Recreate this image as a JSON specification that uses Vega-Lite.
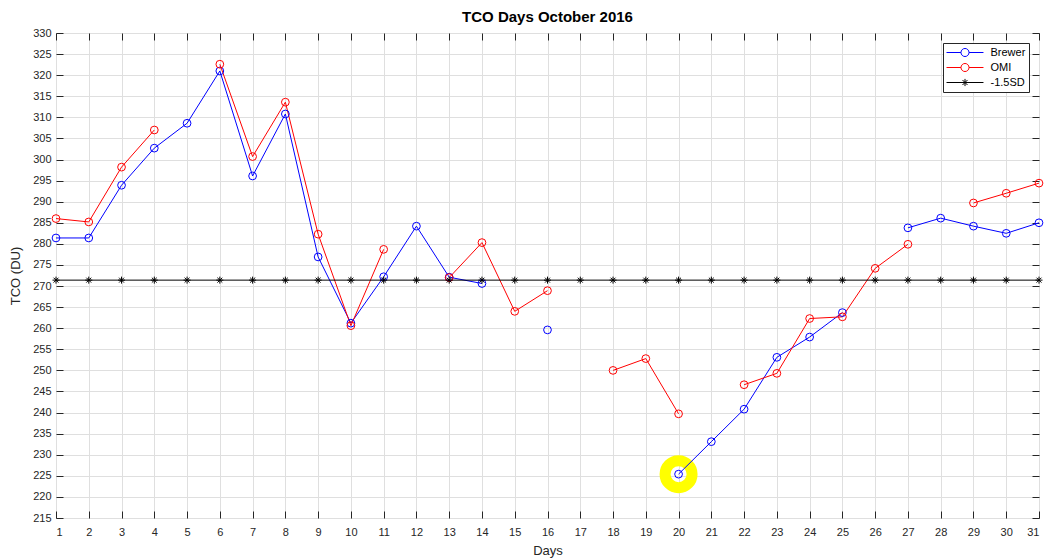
{
  "$schema": "https://vega.github.io/schema/vega-lite/v6.json",
  "width": 983,
  "height": 485,
  "autosize": {"type": "none"},
  "padding": {"left": 56, "top": 33, "right": 5, "bottom": 40},
  "background": "white",
  "title": {"text": "TCO Days October 2016", "fontSize": 15, "fontWeight": "bold", "font": "Liberation Sans", "color": "#000000", "frame": "group", "anchor": "middle", "offset": 2},
  "datasets": {
    "tco": [
      {"day": 1, "series": "Brewer", "value": 281.4}, {"day": 2, "series": "Brewer", "value": 281.4}, {"day": 3, "series": "Brewer", "value": 293.9}, {"day": 4, "series": "Brewer", "value": 302.7}, {"day": 5, "series": "Brewer", "value": 308.6}, {"day": 6, "series": "Brewer", "value": 321.0}, {"day": 7, "series": "Brewer", "value": 296.1}, {"day": 8, "series": "Brewer", "value": 310.8}, {"day": 9, "series": "Brewer", "value": 276.9}, {"day": 10, "series": "Brewer", "value": 261.2}, {"day": 11, "series": "Brewer", "value": 272.2}, {"day": 12, "series": "Brewer", "value": 284.2}, {"day": 13, "series": "Brewer", "value": 272.1}, {"day": 14, "series": "Brewer", "value": 270.6}, {"day": 15, "series": "Brewer", "value": null}, {"day": 16, "series": "Brewer", "value": 259.6}, {"day": 17, "series": "Brewer", "value": null}, {"day": 18, "series": "Brewer", "value": null}, {"day": 19, "series": "Brewer", "value": null}, {"day": 20, "series": "Brewer", "value": 225.4}, {"day": 21, "series": "Brewer", "value": 233.1}, {"day": 22, "series": "Brewer", "value": 240.8}, {"day": 23, "series": "Brewer", "value": 253.1}, {"day": 24, "series": "Brewer", "value": 257.9}, {"day": 25, "series": "Brewer", "value": 263.7}, {"day": 26, "series": "Brewer", "value": null}, {"day": 27, "series": "Brewer", "value": 283.8}, {"day": 28, "series": "Brewer", "value": 286.1}, {"day": 29, "series": "Brewer", "value": 284.2}, {"day": 30, "series": "Brewer", "value": 282.5}, {"day": 31, "series": "Brewer", "value": 285.0},
      {"day": 1, "series": "OMI", "value": 286.0}, {"day": 2, "series": "OMI", "value": 285.2}, {"day": 3, "series": "OMI", "value": 298.2}, {"day": 4, "series": "OMI", "value": 307.0}, {"day": 5, "series": "OMI", "value": null}, {"day": 6, "series": "OMI", "value": 322.6}, {"day": 7, "series": "OMI", "value": 300.7}, {"day": 8, "series": "OMI", "value": 313.6}, {"day": 9, "series": "OMI", "value": 282.3}, {"day": 10, "series": "OMI", "value": 260.6}, {"day": 11, "series": "OMI", "value": 278.7}, {"day": 12, "series": "OMI", "value": null}, {"day": 13, "series": "OMI", "value": 272.0}, {"day": 14, "series": "OMI", "value": 280.3}, {"day": 15, "series": "OMI", "value": 264.0}, {"day": 16, "series": "OMI", "value": 268.9}, {"day": 17, "series": "OMI", "value": null}, {"day": 18, "series": "OMI", "value": 250.0}, {"day": 19, "series": "OMI", "value": 252.8}, {"day": 20, "series": "OMI", "value": 239.7}, {"day": 21, "series": "OMI", "value": null}, {"day": 22, "series": "OMI", "value": 246.6}, {"day": 23, "series": "OMI", "value": 249.3}, {"day": 24, "series": "OMI", "value": 262.3}, {"day": 25, "series": "OMI", "value": 262.7}, {"day": 26, "series": "OMI", "value": 274.2}, {"day": 27, "series": "OMI", "value": 279.9}, {"day": 28, "series": "OMI", "value": null}, {"day": 29, "series": "OMI", "value": 289.7}, {"day": 30, "series": "OMI", "value": 292.0}, {"day": 31, "series": "OMI", "value": 294.4},
      {"day": 1, "series": "-1.5SD", "value": 271.4}, {"day": 2, "series": "-1.5SD", "value": 271.4}, {"day": 3, "series": "-1.5SD", "value": 271.4}, {"day": 4, "series": "-1.5SD", "value": 271.4}, {"day": 5, "series": "-1.5SD", "value": 271.4}, {"day": 6, "series": "-1.5SD", "value": 271.4}, {"day": 7, "series": "-1.5SD", "value": 271.4}, {"day": 8, "series": "-1.5SD", "value": 271.4}, {"day": 9, "series": "-1.5SD", "value": 271.4}, {"day": 10, "series": "-1.5SD", "value": 271.4}, {"day": 11, "series": "-1.5SD", "value": 271.4}, {"day": 12, "series": "-1.5SD", "value": 271.4}, {"day": 13, "series": "-1.5SD", "value": 271.4}, {"day": 14, "series": "-1.5SD", "value": 271.4}, {"day": 15, "series": "-1.5SD", "value": 271.4}, {"day": 16, "series": "-1.5SD", "value": 271.4}, {"day": 17, "series": "-1.5SD", "value": 271.4}, {"day": 18, "series": "-1.5SD", "value": 271.4}, {"day": 19, "series": "-1.5SD", "value": 271.4}, {"day": 20, "series": "-1.5SD", "value": 271.4}, {"day": 21, "series": "-1.5SD", "value": 271.4}, {"day": 22, "series": "-1.5SD", "value": 271.4}, {"day": 23, "series": "-1.5SD", "value": 271.4}, {"day": 24, "series": "-1.5SD", "value": 271.4}, {"day": 25, "series": "-1.5SD", "value": 271.4}, {"day": 26, "series": "-1.5SD", "value": 271.4}, {"day": 27, "series": "-1.5SD", "value": 271.4}, {"day": 28, "series": "-1.5SD", "value": 271.4}, {"day": 29, "series": "-1.5SD", "value": 271.4}, {"day": 30, "series": "-1.5SD", "value": 271.4}, {"day": 31, "series": "-1.5SD", "value": 271.4}
    ],
    "highlight": [{"day": 20, "value": 225.4}]
  },
  "resolve": {"axis": {"x": "independent", "y": "independent"}},
  "layer": [
    {
      "data": {"name": "highlight"},
      "mark": {"type": "point", "shape": "circle", "filled": false, "size": 729, "strokeWidth": 11, "stroke": "#ffff00", "opacity": 1},
      "encoding": {
        "x": {"field": "day", "type": "quantitative", "scale": {"domain": [1, 31], "nice": false, "zero": false}, "axis": null},
        "y": {"field": "value", "type": "quantitative", "scale": {"domain": [215, 330], "nice": false, "zero": false}, "axis": null}
      }
    },
    {
      "data": {"name": "tco"},
      "mark": {"type": "line", "strokeWidth": 1, "invalid": "break-paths-show-domains"},
      "encoding": {
        "x": {"field": "day", "type": "quantitative", "title": "Days",
          "axis": {"orient": "bottom", "values": [1,2,3,4,5,6,7,8,9,10,11,12,13,14,15,16,17,18,19,20,21,22,23,24,25,26,27,28,29,30,31], "grid": true, "labelPadding": 15, "titlePadding": 7}},
        "y": {"field": "value", "type": "quantitative", "title": "TCO (DU)",
          "axis": {"orient": "left", "values": [215,220,225,230,235,240,245,250,255,260,265,270,275,280,285,290,295,300,305,310,315,320,325,330], "grid": true, "labelPadding": 12, "titlePadding": 10}},
        "color": {"field": "series", "type": "nominal",
          "scale": {"domain": ["Brewer", "OMI", "-1.5SD"], "range": ["#0000ff", "#ff0000", "#000000"]},
          "legend": {
            "title": null, "orient": "top-right", "offset": 10,
            "symbolSize": 144, "symbolStrokeWidth": 1, "symbolFillColor": "transparent", "symbolOffset": 12.5,
            "labelFontSize": 11, "labelFont": "Liberation Sans", "labelColor": "#000000", "labelOffset": 19,
            "strokeColor": "#262626", "fillColor": "white", "padding": 3, "rowPadding": 2,
            "encode": {"symbols": {"update": {
              "shape": {"signal": "datum.value === '-1.5SD' ? 'M-3.08,0L3.08,0M0,-0.6L0,0.6M-0.42,-0.42L0.42,0.42M-0.42,0.42L0.42,-0.42' : 'M-3.08,0L-0.67,0M0.67,0L3.08,0M0.67,0A0.67,0.67 0 1,1 -0.67,0A0.67,0.67 0 1,1 0.67,0'"},
              "fill": {"value": "transparent"}
            }}}
          }}
      }
    },
    {
      "data": {"name": "tco"},
      "transform": [{"filter": "datum.series !== '-1.5SD'"}],
      "mark": {"type": "point", "shape": "circle", "filled": false, "size": 60, "strokeWidth": 1, "opacity": 1},
      "encoding": {
        "x": {"field": "day", "type": "quantitative", "axis": null},
        "y": {"field": "value", "type": "quantitative", "axis": null},
        "color": {"field": "series", "type": "nominal", "legend": null}
      }
    },
    {
      "data": {"name": "tco"},
      "transform": [{"filter": "datum.series === '-1.5SD'"}],
      "mark": {"type": "point", "shape": "M-1,0L1,0M0,-1L0,1M-0.7,-0.7L0.7,0.7M-0.7,0.7L0.7,-0.7", "filled": false, "size": 49, "strokeWidth": 1, "stroke": "#000000", "opacity": 1},
      "encoding": {
        "x": {"field": "day", "type": "quantitative",
          "axis": {"orient": "top", "values": [1,2,3,4,5,6,7,8,9,10,11,12,13,14,15,16,17,18,19,20,21,22,23,24,25,26,27,28,29,30,31], "labels": false, "grid": false, "title": null}},
        "y": {"field": "value", "type": "quantitative",
          "axis": {"orient": "right", "values": [215,220,225,230,235,240,245,250,255,260,265,270,275,280,285,290,295,300,305,310,315,320,325,330], "labels": false, "grid": false, "title": null}}
      }
    }
  ],
  "config": {
    "view": {"stroke": "#262626", "strokeWidth": 1},
    "axis": {
      "domain": false,
      "ticks": true,
      "tickSize": -7,
      "tickColor": "#262626",
      "tickWidth": 1,
      "gridColor": "#dfdfdf",
      "gridWidth": 1,
      "labelFont": "Liberation Sans",
      "labelFontSize": 11,
      "labelColor": "#262626",
      "titleFont": "Liberation Sans",
      "titleFontSize": 13,
      "titleFontWeight": "normal",
      "titleColor": "#262626"
    }
  }
}
